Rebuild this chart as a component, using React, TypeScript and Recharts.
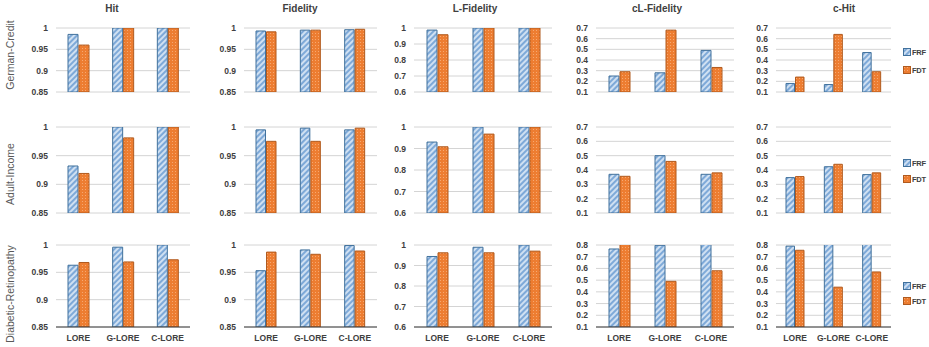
import React from 'react';
import { BarChart, Bar, XAxis, YAxis, CartesianGrid } from 'recharts';

const categories = ['LORE', 'G-LORE', 'C-LORE'];
const seriesNames = ['FRF', 'FDT'];
const datasets = ['German-Credit', 'Adult-Income', 'Diabetic-Retinopathy'];
const metrics = ['Hit', 'Fidelity', 'L-Fidelity', 'cL-Fidelity', 'c-Hit'];

// one row per metric (Hit, Fidelity, L-Fidelity, cL-Fidelity, c-Hit), one value per category
const germanFRF = [
  [0.985, 1, 1],
  [0.993, 0.995, 0.996],
  [0.987, 1, 1],
  [0.25, 0.28, 0.49],
  [0.18, 0.17, 0.47],
];
const germanFDT = [
  [0.96, 1, 1],
  [0.991, 0.995, 0.997],
  [0.958, 1, 1],
  [0.29, 0.68, 0.33],
  [0.24, 0.64, 0.29],
];
const adultFRF = [
  [0.932, 1, 1],
  [0.995, 0.998, 0.995],
  [0.93, 1, 1],
  [0.37, 0.5, 0.37],
  [0.347, 0.423, 0.368],
];
const adultFDT = [
  [0.919, 0.981, 1],
  [0.975, 0.975, 0.998],
  [0.908, 0.967, 1],
  [0.356, 0.46, 0.38],
  [0.354, 0.44, 0.38],
];
const diabeticFRF = [
  [0.963, 0.996, 1],
  [0.953, 0.991, 0.999],
  [0.944, 0.989, 1],
  [0.766, 0.797, 0.85],
  [0.79, 0.85, 0.85],
];
const diabeticFDT = [
  [0.968, 0.969, 0.973],
  [0.987, 0.983, 0.989],
  [0.962, 0.962, 0.97],
  [0.85, 0.49, 0.58],
  [0.755, 0.44, 0.57],
];

const frfValues = [germanFRF, adultFRF, diabeticFRF];
const fdtValues = [germanFDT, adultFDT, diabeticFDT];

const hitTicks = [0.85, 0.9, 0.95, 1];
const lTicks = [0.6, 0.7, 0.8, 0.9, 1];
const cTicks = [0.1, 0.2, 0.3, 0.4, 0.5, 0.6, 0.7];
const cTicksLast = [0.1, 0.2, 0.3, 0.4, 0.5, 0.6, 0.7, 0.8];

// plot area edges in page pixels
const colPlots = [[56, 190], [244, 377], [414, 552], [596, 734], [776, 891]];
const rowPlots = [[28, 92], [127, 213], [245, 327]];
const barSizes = [10, 9.5, 10, 10, 8.5];
const titleX = [112, 300, 475, 657, 844];
const labelY = [55, 174, 294];
const legendY = [[52, 70], [163, 179], [286, 301]];

const FONT = "'Liberation Sans', Arial, sans-serif";
const fills = ['url(#frfPat)', 'url(#fdtPat)'];
const strokes = ['#41719C', '#B05A1E'];

function ticksFor(row: number, col: number) {
  if (col < 2) return hitTicks;
  if (col === 2) return lTicks;
  return row === 2 ? cTicksLast : cTicks;
}

const Panel = ({ row, col }: { row: number; col: number }) => {
  const [x0, x1] = colPlots[col];
  const [y0, y1] = rowPlots[row];
  const bottom = row === 2;
  const axisW = 50;
  const xAxisH = 22;
  const mt = 5;
  const width = x1 - x0 + axisW + 2;
  const height = y1 - y0 + mt + (bottom ? xAxisH : 5);
  const ticks = ticksFor(row, col);
  const data = categories.map((name, i) => ({
    name,
    FRF: frfValues[row][col][i],
    FDT: fdtValues[row][col][i],
  }));

  return (
    <div style={{ position: 'absolute', left: x0 - axisW, top: y0 - mt }}>
      <BarChart
        width={width}
        height={height}
        data={data}
        margin={{ top: mt, right: 2, left: 0, bottom: bottom ? 0 : 5 }}
        barSize={barSizes[col]}
        barGap={1}
      >
        <CartesianGrid vertical={false} stroke="#D4D4D4" />
        {bottom ? (
          <XAxis
            dataKey="name"
            height={xAxisH}
            interval={0}
            tickLine={false}
            axisLine={{ stroke: '#3A3A3A' }}
            tick={{ fontSize: 8.5, fontWeight: 700, fill: '#404040', fontFamily: FONT }}
          />
        ) : (
          <XAxis dataKey="name" hide />
        )}
        <YAxis
          width={axisW}
          domain={[ticks[0], ticks[ticks.length - 1]]}
          ticks={ticks}
          interval={0}
          allowDataOverflow
          axisLine={false}
          tickLine={false}
          tick={{ fontSize: 8.5, fontWeight: 700, fill: '#404040', fontFamily: FONT }}
        />
        {seriesNames.map((s, i) => (
          <Bar key={s} dataKey={s} fill={fills[i]} stroke={strokes[i]} strokeWidth={1} isAnimationActive={false} />
        ))}
      </BarChart>
    </div>
  );
};

export default function App() {
  return (
    <div style={{ position: 'absolute', left: 0, top: 0, width: 929, height: 347, background: '#fff', fontFamily: FONT, overflow: 'hidden' }}>
      <svg width={0} height={0} style={{ position: 'absolute' }}>
        <defs>
          <pattern id="frfPat" width="4" height="4" patternUnits="userSpaceOnUse" patternTransform="rotate(45)">
            <rect width="4" height="4" fill="#7EA9D8" />
            <rect width="2" height="4" fill="#CFE0F2" />
          </pattern>
          <pattern id="fdtPat" width="3" height="3" patternUnits="userSpaceOnUse">
            <rect width="3" height="3" fill="#ED7D31" />
            <rect x="1" y="1" width="1" height="1" fill="#F6A870" />
          </pattern>
        </defs>
      </svg>

      {metrics.map((m, c) => (
        <div
          key={m}
          style={{
            position: 'absolute', left: titleX[c] - 50, top: 2, width: 100, textAlign: 'center',
            fontSize: 10, fontWeight: 700, color: '#404040', lineHeight: '14px',
          }}
        >
          {m}
        </div>
      ))}

      {datasets.map((d, r) => (
        <div
          key={d}
          style={{
            position: 'absolute', left: 10 - 60, top: labelY[r] - 7, width: 120, height: 14, lineHeight: '14px',
            textAlign: 'center', fontSize: 10.5, color: '#595959', transform: 'rotate(-90deg)',
          }}
        >
          {d}
        </div>
      ))}

      {datasets.map((d, r) =>
        metrics.map((m, c) => <Panel key={d + m} row={r} col={c} />)
      )}

      {datasets.map((d, r) =>
        seriesNames.map((s, i) => (
          <div
            key={d + s}
            style={{
              position: 'absolute', left: 903, top: legendY[r][i] - 6, height: 12, width: 26,
              display: 'flex', alignItems: 'center', whiteSpace: 'nowrap',
            }}
          >
            <svg width={8} height={8} style={{ marginRight: 1, flexShrink: 0 }}>
              <rect x={0.5} y={0.5} width={7} height={7} fill={fills[i]} stroke={strokes[i]} />
            </svg>
            <span style={{ fontSize: 7.5, fontWeight: 700, color: '#404040', letterSpacing: -0.3 }}>{s}</span>
          </div>
        ))
      )}
    </div>
  );
}
